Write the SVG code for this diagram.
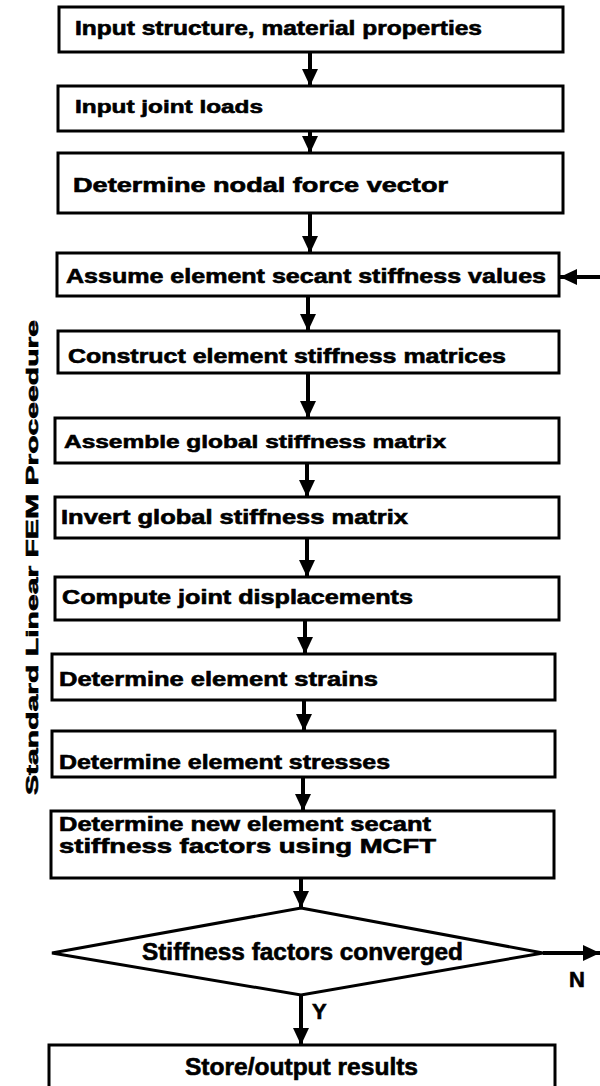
<svg xmlns="http://www.w3.org/2000/svg" width="600" height="1086" viewBox="0 0 600 1086">
  <style>
    .box { fill: #fff; stroke: #000; stroke-width: 3; }
    .lbl { font-family: "Liberation Sans", Arial, sans-serif; font-weight: bold; fill: #000; stroke: #000; stroke-width: 0.6; }
    .edge { fill: none; stroke: #000; stroke-width: 4; }
  </style>
  <defs>
    <marker id="head" markerUnits="userSpaceOnUse" viewBox="0 0 17 16" refX="17" refY="8" markerWidth="17" markerHeight="16" orient="auto">
      <path d="M0,0 L17,8 L0,16 Z" fill="#000"/>
    </marker>
  </defs>
  <rect width="600" height="1086" fill="#fff"/>

  <!-- procedure side label -->
  <text class="lbl" transform="translate(38,795) rotate(-90)" font-size="16" textLength="475" lengthAdjust="spacingAndGlyphs">Standard Linear FEM Proceedure</text>

  <!-- connectors -->
  <g id="connectors">
    <path class="edge" d="M310,52 V86" marker-end="url(#head)"/>
    <path class="edge" d="M310,131 V153" marker-end="url(#head)"/>
    <path class="edge" d="M310,213 V253" marker-end="url(#head)"/>
    <path class="edge" d="M308,296 V331" marker-end="url(#head)"/>
    <path class="edge" d="M308,373 V418" marker-end="url(#head)"/>
    <path class="edge" d="M307,463 V497" marker-end="url(#head)"/>
    <path class="edge" d="M307,538 V577" marker-end="url(#head)"/>
    <path class="edge" d="M305,620 V654" marker-end="url(#head)"/>
    <path class="edge" d="M304,700 V731" marker-end="url(#head)"/>
    <path class="edge" d="M303,777 V811" marker-end="url(#head)"/>
    <path class="edge" d="M301,878 V908" marker-end="url(#head)"/>
    <path class="edge" d="M301,995 V1045" marker-end="url(#head)"/>
    <path class="edge" d="M543,953 H600" marker-end="url(#head)"/>
    <path class="edge" d="M600,277 H560" marker-end="url(#head)"/>
    <text class="lbl" x="312" y="1019" font-size="22">Y</text>
    <text class="lbl" x="569" y="987" font-size="22">N</text>
  </g>

  <g id="n1">
    <rect class="box" x="59" y="7" width="504" height="45"/>
    <text class="lbl" x="75" y="35" font-size="19.5" textLength="407" lengthAdjust="spacingAndGlyphs">Input structure, material properties</text>
  </g>
  <g id="n2">
    <rect class="box" x="58" y="86" width="505" height="45"/>
    <text class="lbl" x="75" y="113" font-size="19" textLength="188" lengthAdjust="spacingAndGlyphs">Input joint loads</text>
  </g>
  <g id="n3">
    <rect class="box" x="58" y="153" width="505" height="60"/>
    <text class="lbl" x="73" y="192" font-size="19.5" textLength="375" lengthAdjust="spacingAndGlyphs">Determine nodal force vector</text>
  </g>
  <g id="n4">
    <rect class="box" x="57" y="253" width="502" height="43"/>
    <text class="lbl" x="66" y="283" font-size="20" textLength="480" lengthAdjust="spacingAndGlyphs">Assume element secant stiffness values</text>
  </g>
  <g id="n5">
    <rect class="box" x="58" y="331" width="501" height="42"/>
    <text class="lbl" x="68" y="363" font-size="20" textLength="438" lengthAdjust="spacingAndGlyphs">Construct element stiffness matrices</text>
  </g>
  <g id="n6">
    <rect class="box" x="55" y="418" width="504" height="45"/>
    <text class="lbl" x="64" y="448" font-size="19" textLength="382" lengthAdjust="spacingAndGlyphs">Assemble global stiffness matrix</text>
  </g>
  <g id="n7">
    <rect class="box" x="55" y="497" width="504" height="41"/>
    <text class="lbl" x="61" y="524" font-size="19.5" textLength="347" lengthAdjust="spacingAndGlyphs">Invert global stiffness matrix</text>
  </g>
  <g id="n8">
    <rect class="box" x="55" y="577" width="504" height="43"/>
    <text class="lbl" x="62" y="604" font-size="20" textLength="351" lengthAdjust="spacingAndGlyphs">Compute joint displacements</text>
  </g>
  <g id="n9">
    <rect class="box" x="52" y="654" width="503" height="46"/>
    <text class="lbl" x="59" y="686" font-size="20" textLength="319" lengthAdjust="spacingAndGlyphs">Determine element strains</text>
  </g>
  <g id="n10">
    <rect class="box" x="52" y="731" width="503" height="46"/>
    <text class="lbl" x="59" y="769" font-size="20" textLength="331" lengthAdjust="spacingAndGlyphs">Determine element stresses</text>
  </g>
  <g id="n11">
    <rect class="box" x="51" y="811" width="503" height="67"/>
    <text class="lbl" x="59" y="831" font-size="19.5" textLength="372" lengthAdjust="spacingAndGlyphs">Determine new element secant</text>
    <text class="lbl" x="59" y="853" font-size="19.5" textLength="377" lengthAdjust="spacingAndGlyphs">stiffness factors using MCFT</text>
  </g>
  <g id="n12">
    <path class="box" d="M301,908 L543,953 L301,995 L52,953 Z"/>
    <text class="lbl" x="142" y="960" font-size="23" textLength="321" lengthAdjust="spacingAndGlyphs">Stiffness factors converged</text>
  </g>
  <g id="n13">
    <rect class="box" x="49" y="1045" width="506" height="50"/>
    <text class="lbl" x="185" y="1075" font-size="23" textLength="233" lengthAdjust="spacingAndGlyphs">Store/output results</text>
  </g>
</svg>
